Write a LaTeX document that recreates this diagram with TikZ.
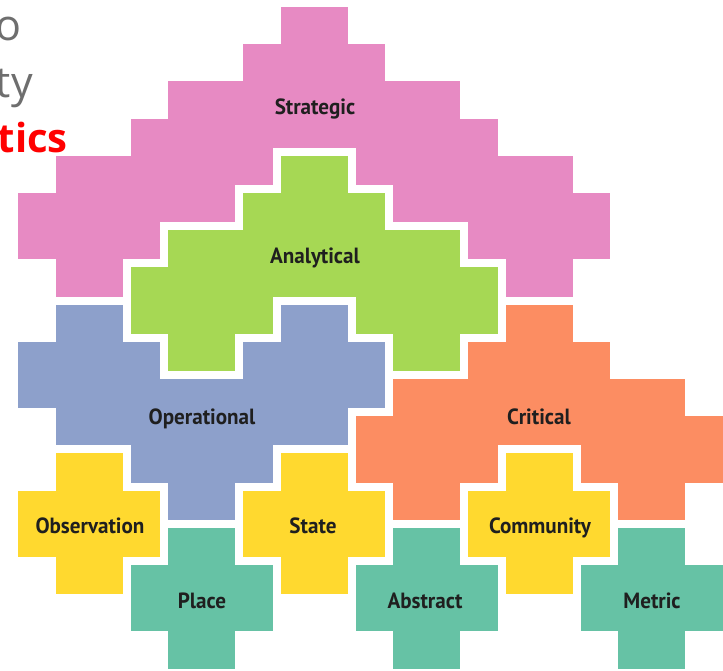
\documentclass[tikz,border=0pt]{standalone}
\usepackage{fontspec}
\newfontfamily\tagfont[FakeStretch=0.96]{PT Sans}
\newfontfamily\slidefont{Open Sans}
\definecolor{pinktile}{HTML}{E78AC3}
\definecolor{greentile}{HTML}{A6D854}
\definecolor{bluetile}{HTML}{8DA0CB}
\definecolor{orangetile}{HTML}{FC8D62}
\definecolor{yellowtile}{HTML}{FFD92F}
\definecolor{tealtile}{HTML}{66C2A5}
\definecolor{slidegray}{HTML}{6E6E6E}
\newcommand{\crosstile}[3]{%
  \filldraw[tile, fill=#3] (#1-1,#2-2) -- ++(2,0) -- ++(0,1) -- ++(1,0) -- ++(0,2)
    -- ++(-1,0) -- ++(0,1) -- ++(-2,0) -- ++(0,-1) -- ++(-1,0) -- ++(0,-2) -- ++(1,0) -- cycle;}
\tikzset{
  tile/.style={draw=white, line width=8pt, line join=miter},
  tag/.style={font=\tagfont\bfseries\fontsize{22}{22}\selectfont, text=black!88,
    anchor=base, inner sep=0pt},
  slide/.style={font=\slidefont\fontsize{43}{43}\selectfont, text=slidegray,
    anchor=base east, inner sep=0pt},
}

\begin{document}
\begin{tikzpicture}
\useasboundingbox (0,0) rectangle (723pt,-670pt);
\fill[white] (0,0) rectangle (723pt,-670pt);
\clip (0,0) rectangle (723pt,-670pt);

\begin{scope}[shift={(14pt,-3pt)}, x=37.5pt, y=-37.2pt]
% strategic
\filldraw[tile, fill=pinktile] (7,0) -- (9,0) -- (9,1) -- (10,1) -- (10,2) -- (12,2) -- (12,3)
  -- (13,3) -- (13,4) -- (15,4) -- (15,5) -- (16,5) -- (16,7) -- (15,7) -- (15,8) -- (13,8)
  -- (13,7) -- (12,7) -- (12,6) -- (10,6) -- (10,5) -- (9,5) -- (9,4) -- (7,4) -- (7,5)
  -- (6,5) -- (6,6) -- (4,6) -- (4,7) -- (3,7) -- (3,8) -- (1,8) -- (1,7) -- (0,7) -- (0,5)
  -- (1,5) -- (1,4) -- (3,4) -- (3,3) -- (4,3) -- (4,2) -- (6,2) -- (6,1) -- (7,1) -- cycle;
% analytical
\filldraw[tile, fill=greentile] (7,4) -- (9,4) -- (9,5) -- (10,5) -- (10,6) -- (12,6) -- (12,7)
  -- (13,7) -- (13,9) -- (12,9) -- (12,10) -- (10,10) -- (10,9) -- (9,9) -- (9,8) -- (7,8)
  -- (7,9) -- (6,9) -- (6,10) -- (4,10) -- (4,9) -- (3,9) -- (3,7) -- (4,7) -- (4,6) -- (6,6)
  -- (6,5) -- (7,5) -- cycle;
% operational
\filldraw[tile, fill=bluetile] (1,8) -- (3,8) -- (3,9) -- (4,9) -- (4,10) -- (6,10) -- (6,9)
  -- (7,9) -- (7,8) -- (9,8) -- (9,9) -- (10,9) -- (10,11) -- (9,11) -- (9,12) -- (7,12)
  -- (7,13) -- (6,13) -- (6,14) -- (4,14) -- (4,13) -- (3,13) -- (3,12) -- (1,12) -- (1,11)
  -- (0,11) -- (0,9) -- (1,9) -- cycle;
% critical
\filldraw[tile, fill=orangetile, shift={(6,4)}] (7,4) -- (9,4) -- (9,5) -- (10,5) -- (10,6)
  -- (12,6) -- (12,7) -- (13,7) -- (13,9) -- (12,9) -- (12,10) -- (10,10) -- (10,9) -- (9,9)
  -- (9,8) -- (7,8) -- (7,9) -- (6,9) -- (6,10) -- (4,10) -- (4,9) -- (3,9) -- (3,7) -- (4,7)
  -- (4,6) -- (6,6) -- (6,5) -- (7,5) -- cycle;
% single crosses
\crosstile{2}{14}{yellowtile}
\crosstile{8}{14}{yellowtile}
\crosstile{14}{14}{yellowtile}
\crosstile{5}{16}{tealtile}
\crosstile{11}{16}{tealtile}
\crosstile{17}{16}{tealtile}
\end{scope}

% cut-off slide title
\node[slide] (line1) at (22pt,-40pt) {o};
\node[slide] (line2) at (33pt,-97pt) {ty};
\node[slide, font=\slidefont\bfseries\fontsize{40}{40}\selectfont, text=red] (line3) at (68pt,-152pt) {tics};

% labels
\node[tag] (strategic) at (315pt,-114pt) {Strategic};
\node[tag] (analytical) at (315pt,-263pt) {Analytical};
\node[tag] (operational) at (202pt,-424pt) {Operational};
\node[tag] (critical) at (539pt,-424pt) {Critical};
\node[tag] (observation) at (90pt,-533pt) {Observation};
\node[tag] (state) at (313pt,-533pt) {State};
\node[tag] (community) at (540pt,-533pt) {Community};
\node[tag] (place) at (202pt,-608pt) {Place};
\node[tag] (abstract) at (425pt,-608pt) {Abstract};
\node[tag] (metric) at (652pt,-608pt) {Metric};
\end{tikzpicture}
\end{document}
